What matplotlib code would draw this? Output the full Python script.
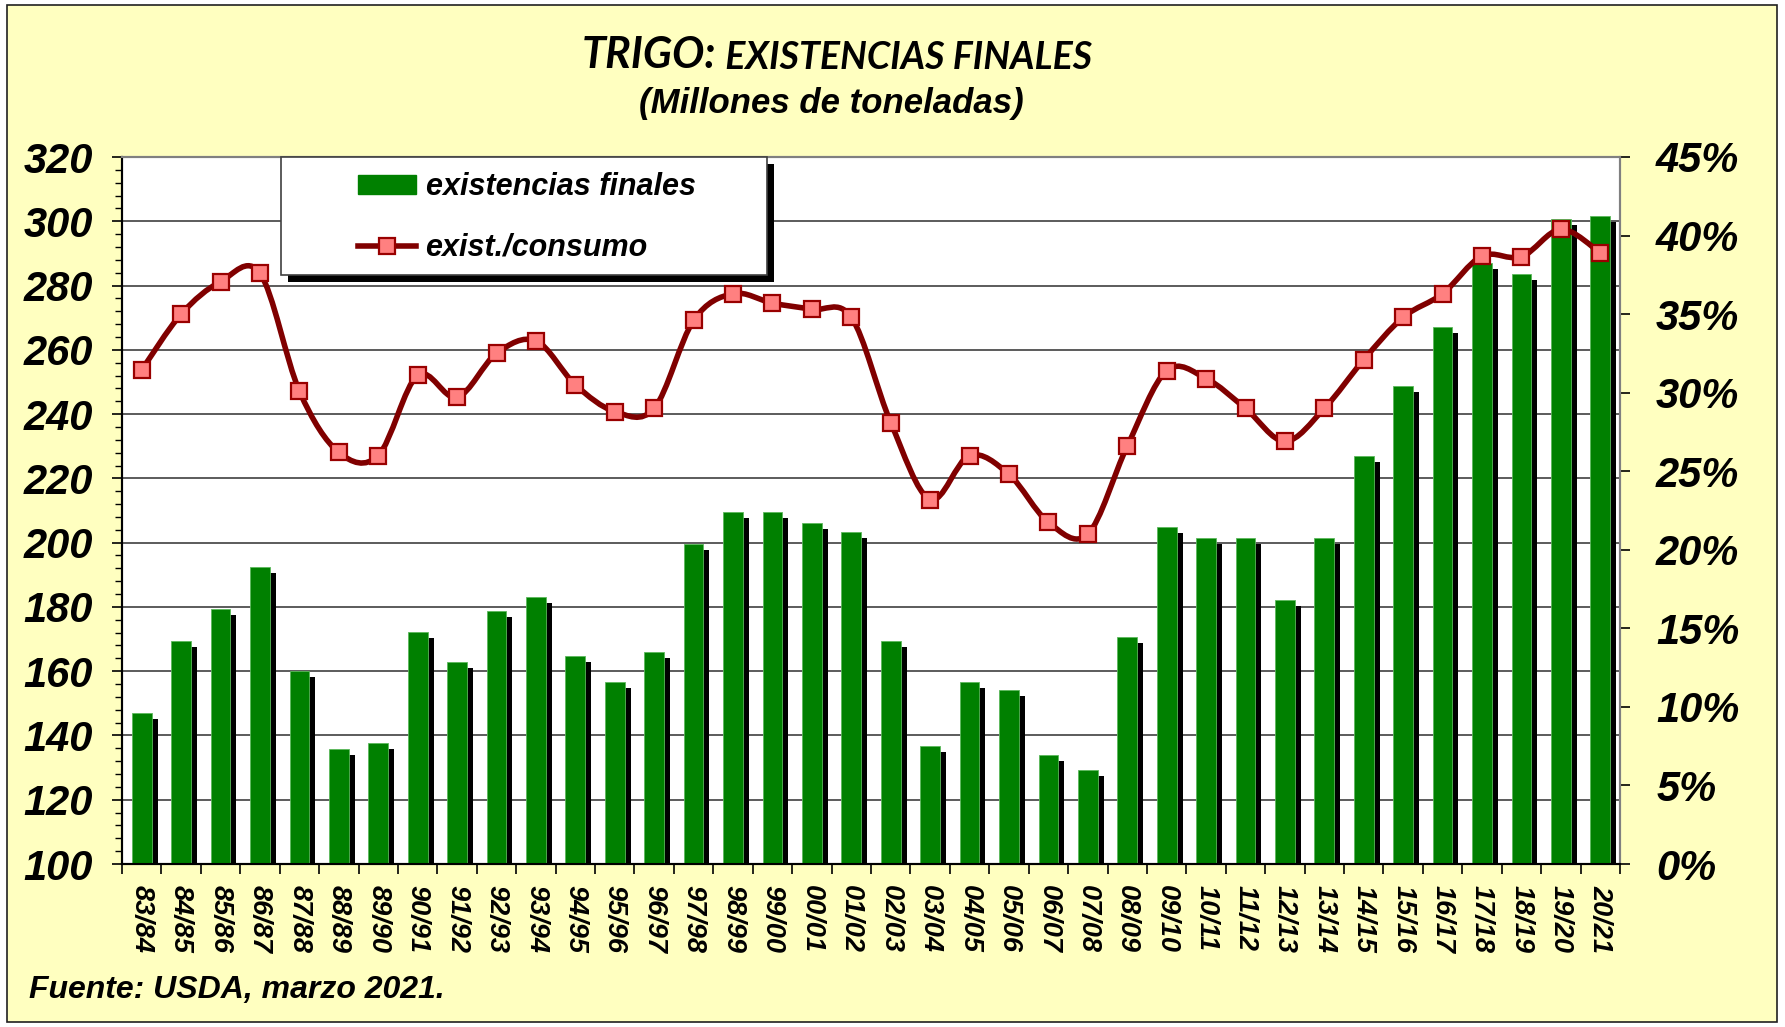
import numpy as np
import matplotlib
matplotlib.use('Agg')
import matplotlib.pyplot as plt
from matplotlib.patches import Rectangle, Patch, PathPatch
from matplotlib.lines import Line2D
from matplotlib.path import Path
from matplotlib.ticker import MultipleLocator, FuncFormatter
import matplotlib.transforms as mtransforms

# campañas
campanas = ['83/84', '84/85', '85/86', '86/87', '87/88', '88/89', '89/90', '90/91',
            '91/92', '92/93', '93/94', '94/95', '95/96', '96/97', '97/98', '98/99',
            '99/00', '00/01', '01/02', '02/03', '03/04', '04/05', '05/06', '06/07',
            '07/08', '08/09', '09/10', '10/11', '11/12', '12/13', '13/14', '14/15',
            '15/16', '16/17', '17/18', '18/19', '19/20', '20/21']

# existencias finales (millones de t)
existencias = [146.9, 169.4, 179.5, 192.3, 160.2, 135.8, 137.5, 172.2,
               163.0, 178.7, 183.2, 164.8, 156.6, 165.9, 199.6, 209.6,
               209.6, 206.0, 203.3, 169.5, 136.7, 156.7, 154.0, 133.9,
               129.3, 170.5, 205.0, 201.4, 201.3, 182.1, 201.3, 227.0,
               248.8, 267.0, 287.1, 283.5, 300.7, 301.6]

# relacion existencias/consumo (%)
exist_consumo = [31.45, 35.0, 37.07, 37.6, 30.1, 26.2, 26.0, 31.1,
                 29.7, 32.5, 33.3, 30.5, 28.8, 29.0, 34.6, 36.3,
                 35.7, 35.3, 34.8, 28.1, 23.2, 26.0, 24.8, 21.75,
                 21.0, 26.6, 31.4, 30.9, 29.0, 26.9, 29.0, 32.1,
                 34.8, 36.3, 38.7, 38.65, 40.4, 38.9]

W, H = 1785, 1027
fig = plt.figure(figsize=(W/100, H/100), dpi=100)
fig.patch.set_facecolor('white')

#yellow frame
fig.patches.append(Rectangle((7/W, 1-1022/H), 1770/W, 1017/H, transform=fig.transFigure,
                             facecolor='#FFFFC0', edgecolor='#202020', lw=1.2, zorder=-10))

ax = fig.add_axes([122/W, 1-864/H, 1498/W, 707/H])
ax.set_facecolor('white')
ax2 = ax.twinx()

x = np.arange(len(campanas))
bold_it = dict(family='Liberation Sans', weight='bold', style='italic')

#shadow bars then green bars
shadow = mtransforms.offset_copy(ax.transData, fig=fig, x=6, y=-6, units='dots')
ax.bar(x, np.array(existencias) - 100, bottom=100, width=0.5, color='black',
       transform=shadow, zorder=2, clip_on=True)
ax.bar(x, np.array(existencias) - 100, bottom=100, width=0.5, color='#008000',
       edgecolor='#5cb85c', linewidth=0.6, zorder=3)

ax.set_xlim(-0.5, len(campanas) - 0.5)
ax.set_ylim(100, 320)
ax.set_yticks(range(100, 321, 20))
ax.yaxis.set_minor_locator(MultipleLocator(4))
ax.grid(axis='y', which='major', color='#404040', lw=1.2, zorder=1)
ax.set_axisbelow(True)

#x ticks at boundaries, labels at centres
ax.set_xticks(np.arange(-0.5, len(campanas), 1))
ax.set_xticklabels([])
ax.set_xticks(x, minor=True)
ax.set_xticklabels(campanas, minor=True, rotation=270, fontsize=19.5, **bold_it)
ax.tick_params(axis='x', which='major', length=7, width=1.2, direction='out')
ax.tick_params(axis='x', which='minor', length=0, pad=15)
ax.tick_params(axis='y', which='major', length=7, width=1.2, pad=14, labelsize=30)
ax.tick_params(axis='y', which='minor', length=5, width=1.0)
for lab in ax.get_yticklabels():
    lab.set_fontfamily('Liberation Sans')
    lab.set_fontweight('bold')
    lab.set_fontstyle('italic')

#smoothed line (catmull-rom as bezier), like excel
px = x.astype(float)
py = np.array(exist_consumo)
verts = [(px[0], py[0])]
codes = [Path.MOVETO]
n = len(px)
for i in range(n - 1):
    p0 = np.array([px[max(i-1, 0)], py[max(i-1, 0)]])
    p1 = np.array([px[i], py[i]])
    p2 = np.array([px[i+1], py[i+1]])
    p3 = np.array([px[min(i+2, n-1)], py[min(i+2, n-1)]])
    c1 = p1 + (p2 - p0)/6.
    c2 = p2 - (p3 - p1)/6.
    verts += [tuple(c1), tuple(c2), tuple(p2)]
    codes += [Path.CURVE4]*3
ax2.add_patch(PathPatch(Path(verts, codes), facecolor='none', edgecolor='#800000',
                        lw=4, zorder=4, capstyle='round', joinstyle='round'))
ax2.plot(px, py, ls='none', marker='s', ms=11, mfc='#FF8080', mec='#990000', mew=1.6, zorder=5)

ax2.set_ylim(0, 45)
ax2.set_yticks(range(0, 46, 5))
ax2.yaxis.set_major_formatter(FuncFormatter(lambda v, p: '%d%%' % v))
ax2.tick_params(axis='y', length=7, width=1.2, pad=19, labelsize=30)
for lab in ax2.get_yticklabels():
    lab.set_fontfamily('Liberation Sans')
    lab.set_fontweight('bold')
    lab.set_fontstyle('italic')

for a in (ax, ax2):
    a.spines['top'].set_color('#808080')
    a.spines['right'].set_color('#808080')
    a.spines['left'].set_color('black')
    a.spines['bottom'].set_color('black')
    for s in a.spines.values():
        s.set_linewidth(1.5)

#legend box with shadow
fig.patches.append(Rectangle((288/W, 1-282/H), 486/W, 118/H, transform=fig.transFigure,
                             facecolor='black', edgecolor='none', zorder=5))
fig.patches.append(Rectangle((281/W, 1-275/H), 486/W, 118/H, transform=fig.transFigure,
                             facecolor='white', edgecolor='#404040', lw=1.2, zorder=6))
handles = [Patch(facecolor='#008000', edgecolor='#008000'),
           Line2D([], [], color='#800000', lw=4, marker='s', ms=11, mfc='#FF8080',
                  mec='#990000', mew=1.6)]
leg = fig.legend(handles, ['existencias finales', 'exist./consumo'], loc='upper left',
                 bbox_to_anchor=(343/W, 1-157/H), frameon=False, borderpad=0,
                 handlelength=1.9, handleheight=0.55, handletextpad=0.3, labelspacing=1.0,
                 prop=dict(family='Liberation Sans', weight='bold', style='italic', size=22))
leg.set_zorder(7)

#titles
t1 = fig.text(582/W, 1-68/H, 'TRIGO:', fontsize=31, family='Lato', weight='bold',
              style='italic', ha='left', va='baseline')
ax.annotate(' EXISTENCIAS FINALES', xy=(1, 0), xycoords=t1, ha='left', va='bottom',
            fontsize=27, family='Lato', weight='bold', style='italic', annotation_clip=False)
fig.text(831/W, 1-113/H, '(Millones de toneladas)', fontsize=25, ha='center', va='baseline',
         **bold_it)
fig.text(29/W, 1-998/H, 'Fuente: USDA, marzo 2021.', fontsize=23, ha='left', va='baseline',
         **bold_it)

fig.savefig('out.png', dpi=100, facecolor=fig.get_facecolor())
